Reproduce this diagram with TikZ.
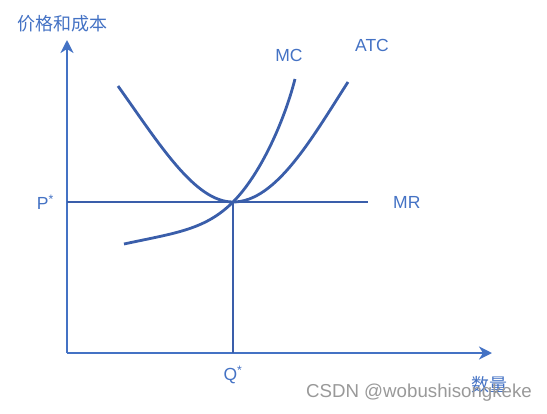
\documentclass[tikz,border=0pt]{standalone}
\usepackage{fontspec}
\setmainfont{Liberation Sans}
\newfontfamily\cjk{Noto Sans CJK SC}
\usetikzlibrary{arrows.meta,positioning}
\definecolor{curveblue}{HTML}{3A5EAA}
\definecolor{axisblue}{HTML}{4472C4}
\begin{document}
\begin{tikzpicture}[x=1pt,y=-1pt,
  axisline/.style={line width=2.6pt,axisblue,-{Stealth[length=13pt,width=13pt,inset=4pt]}},
  curveline/.style={line width=2.8pt,curveblue},
  lab/.style={text=axisblue,font=\fontsize{17.5}{19}\selectfont,inner sep=1pt}]
 \useasboundingbox (0,0) rectangle (547,413);
 % axes
 \coordinate (O) at (67,353);
 \coordinate (ytip) at (67,40);
 \coordinate (xtip) at (492,353);
 \draw[axisline] (O) -- (ytip);
 \draw[axisline] (O) -- (xtip);
 % MR line and Q* drop
 \coordinate (Pstar) at (67,202);
 \coordinate (E) at (233,202);
 \coordinate (MRend) at (368,202);
 \coordinate (Qstar) at (233,353);
 \draw[curveline] (Pstar) -- (MRend);
 \draw[curveline] (E) -- (Qstar);
 % MC curve
 \draw[curveline] (124,244) .. controls (175,233) and (205,230) .. (E)
   .. controls (260,175) and (284,122) .. (295,79);
 % ATC curve
 \draw[curveline] (118,86) .. controls (160,145) and (195,202) .. (E)
   .. controls (276,202) and (312,138) .. (348,82);
 % labels
 \node[lab,font=\cjk\fontsize{18}{20}\selectfont] (ylab) at (62,24) {价格和成本};
 \node[lab,font=\cjk\fontsize{18}{20}\selectfont] (xlab) at (489,385) {数量};
 \node[lab,left=12pt of Pstar] (plab) {P\textsuperscript{*}};
 \node[lab,right=24pt of MRend] (mrlab) {MR};
 \node[lab] (mclab) at (289,55) {MC};
 \node[lab] (atclab) at (372,45) {ATC};
 \node[lab,below=12pt of Qstar] (qlab) {Q\textsuperscript{*}};
 % watermark
 \node[text=gray!80,font=\fontsize{18.7}{20}\selectfont,inner sep=0pt] (mark) at (419,393) {CSDN @wobushisongkeke};
\end{tikzpicture}
\end{document}
